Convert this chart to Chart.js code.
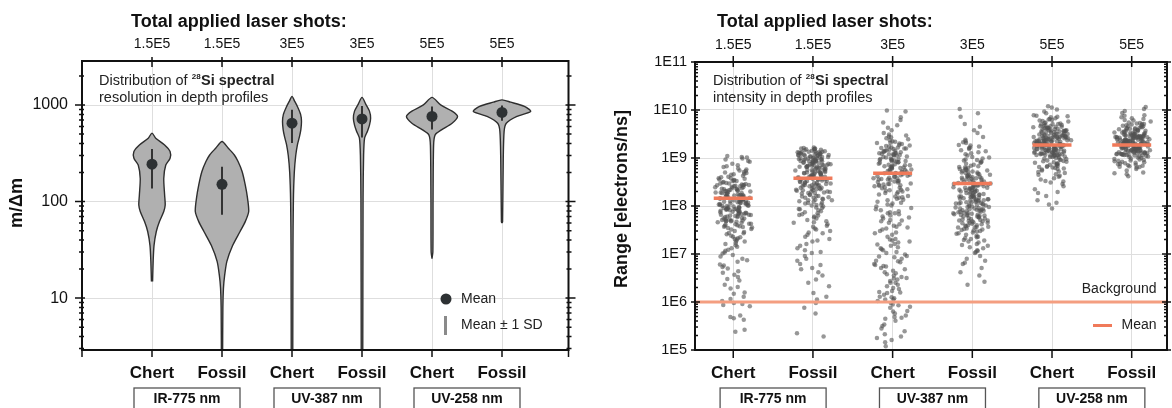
<!DOCTYPE html>
<html><head><meta charset="utf-8">
<script src="https://cdn.jsdelivr.net/npm/chart.js@4.4.0/dist/chart.umd.min.js"></script>
<style>
html,body{margin:0;padding:0;background:#fff;overflow:hidden;width:1172px;height:408px;position:relative;}
canvas{position:absolute;top:0;}
#c1{left:0;} #c2{left:590px;}
</style></head><body>
<canvas id="c1" width="590" height="408"></canvas>
<canvas id="c2" width="600" height="408"></canvas>
<script>
// ---------------- DATA ----------------
const categories = ['Chert','Fossil','Chert','Fossil','Chert','Fossil'];
const laserShots = ['1.5E5','1.5E5','3E5','3E5','5E5','5E5'];
const laserGroups = ['IR-775 nm','UV-387 nm','UV-258 nm'];

const resolutionTicks = [10, 100, 1000];
const resolutionTickLabels = ['10', '100', '1000'];
const intensityTicks = [1e5, 1e6, 1e7, 1e8, 1e9, 1e10, 1e11];
const intensityTickLabels = ['1E5', '1E6', '1E7', '1E8', '1E9', '1E10', '1E11'];

// violin profiles: m/Δm levels (bottom -> top) and relative half-width (density)
const vChertIR_level  = [14.9, 24, 35, 49, 62, 79, 92, 117, 174, 239, 281, 330, 386, 454, 512];
const vChertIR_width  = [0.02, 0.04, 0.07, 0.15, 0.26, 0.41, 0.46, 0.44, 0.41, 0.48, 0.63, 0.63, 0.44, 0.13, 0];
const vFossilIR_level = [2, 8, 12.6, 17, 24, 35, 49, 62, 79, 108, 149, 205, 260, 304, 357, 419];
const vFossilIR_width = [0.02, 0.03, 0.05, 0.09, 0.17, 0.37, 0.63, 0.81, 0.93, 0.89, 0.81, 0.70, 0.56, 0.43, 0.22, 0];
const vChertUV387_level  = [2, 30, 100, 200, 300, 390, 470, 560, 680, 800, 950, 1100, 1230];
const vChertUV387_width  = [0.026, 0.033, 0.048, 0.08, 0.13, 0.19, 0.26, 0.31, 0.33, 0.30, 0.20, 0.09, 0];
const vFossilUV387_level = [2, 108, 302, 454, 536, 619, 731, 865, 1023, 1200];
const vFossilUV387_width = [0.026, 0.037, 0.056, 0.09, 0.19, 0.26, 0.30, 0.26, 0.13, 0];
const vChertUV258_level  = [25.7, 30, 108, 386, 491, 553, 649, 762, 865, 1004, 1200];
const vChertUV258_width  = [0, 0.03, 0.037, 0.056, 0.11, 0.33, 0.70, 0.89, 0.70, 0.30, 0];
const vFossilUV258_level = [60, 62, 281, 536, 649, 762, 859, 968, 1072, 1132];
const vFossilUV258_width = [0, 0.02, 0.044, 0.074, 0.15, 0.52, 1.0, 0.78, 0.30, 0];

const resolutionMean = [244, 151, 649, 719, 762, 839];
const resolutionSD   = [107, 78, 244, 257, 205, 150];

// intensity per depth-profile point, log10(electrons/ns)
const intensityChertIR = [9.02,9.04,9.01,8.97,8.78,8.92,8.85,8.99,8.81,8.88,8.76,8.94,8.83,
8.52,8.71,8.63,8.58,8.74,8.55,8.67,8.61,8.69,8.5,8.73,8.57,8.65,8.54,8.7,8.6,8.66,8.53,
8.27,8.44,8.31,8.49,8.36,8.26,8.41,8.33,8.47,8.29,8.38,8.45,8.3,8.42,8.35,8.48,8.28,8.4,8.34,8.46,8.32,8.43,8.37,8.25,8.39,
8.02,8.19,8.11,8.24,8.06,8.15,8.0,8.22,8.09,8.17,8.04,8.13,8.21,8.07,8.18,8.01,8.14,8.23,8.1,8.05,8.2,8.12,8.03,8.16,8.08,8.19,
7.77,7.96,7.84,7.91,7.79,7.99,7.86,7.93,7.81,7.88,7.75,7.95,7.83,7.9,7.78,7.97,7.85,7.92,7.8,7.87,7.94,7.82,7.89,7.98,
7.52,7.71,7.63,7.57,7.74,7.55,7.67,7.6,7.69,7.51,7.65,7.58,7.72,7.54,7.62,7.68,7.56,7.7,
7.27,7.44,7.33,7.48,7.3,7.41,7.36,7.26,7.46,7.38,7.31,7.43,7.35,
7.03,7.21,7.12,7.07,7.18,7.01,7.15,7.09,7.23,
6.78,6.95,6.84,6.9,6.76,6.98,6.87,
6.52,6.7,6.61,6.57,6.73,6.64,
6.28,6.45,6.36,6.31,6.48,
6.02,6.2,6.11,6.06,6.17,
5.96,5.91,5.98,5.94,
5.72,5.66,5.63,5.69,
5.42,5.38,
8.12,7.95,8.33,7.68,8.05,8.41,7.82,8.22,7.59,8.16,7.91,8.47,8.01,7.74,8.28,8.09,7.87,8.36,7.63,8.19,
7.98,8.44,7.79,8.25,8.03,7.7,8.31,7.93,8.14,8.52,7.85,8.21,7.66,8.07,8.39,7.9,8.17,7.77,8.27,8.0,
8.58,7.84,8.11,8.35,7.72,8.23,7.96,8.43,8.06,7.61];
const intensityFossilIR = [9.16,9.2,9.18,9.21,9.17,9.19,9.22,9.15,9.2,9.18,
9.01,9.12,9.06,9.14,9.03,9.09,9.11,9.0,9.08,9.13,9.04,9.1,9.02,9.07,9.14,9.05,9.12,9.09,9.03,9.11,9.06,9.13,
8.76,8.95,8.83,8.9,8.79,8.98,8.86,8.93,8.77,8.88,8.97,8.81,8.91,8.84,8.99,8.78,8.94,8.87,8.8,8.96,8.85,8.92,8.75,8.89,8.82,8.97,8.86,8.93,
8.52,8.71,8.6,8.67,8.55,8.74,8.63,8.58,8.69,8.51,8.65,8.72,8.56,8.62,8.7,8.54,8.66,8.59,8.73,8.57,8.64,8.5,8.68,8.61,8.53,8.7,
8.27,8.46,8.35,8.41,8.29,8.49,8.32,8.44,8.38,8.26,8.47,8.34,8.42,8.3,8.39,8.45,8.28,8.37,8.48,8.33,8.43,8.36,
8.03,8.21,8.12,8.07,8.18,8.01,8.15,8.24,8.09,8.05,8.2,8.13,8.02,8.17,8.1,8.23,8.06,8.14,
7.78,7.96,7.85,7.91,7.8,7.99,7.87,7.76,7.93,7.83,7.89,7.97,7.81,7.94,
7.53,7.71,7.62,7.57,7.68,7.51,7.65,7.74,7.59,7.66,
7.28,7.45,7.36,7.31,7.48,7.4,7.26,7.43,
7.04,7.21,7.12,7.08,7.17,7.02,
6.79,6.96,6.86,6.9,6.77,
6.55,6.71,6.62,6.68,
6.33,6.47,6.4,
6.05,6.19,6.11,
5.98,5.88,5.76,
5.35,5.28,
8.85,9.05,8.62,8.93,8.41,8.77,9.1,8.55,8.98,8.33,8.7,9.02,8.48,8.88,8.21,8.65,8.95,8.38,8.81,9.08,
8.58,8.91,8.27,8.73,9.0,8.45,8.84,8.12,8.68,8.97,8.52,8.79,9.12,8.35,8.87,8.63,8.99,8.43,8.75,9.06,
8.57,8.9,8.3,8.71,8.94,8.49,8.82,9.03,8.6,8.17];
const intensityChertUV387 = [9.99,9.97,9.85,
9.52,9.74,9.63,9.58,9.79,9.68,
9.27,9.45,9.34,9.49,9.3,9.41,9.37,9.26,9.47,9.32,9.43,9.39,9.29,
9.02,9.21,9.1,9.16,9.05,9.24,9.12,9.08,9.19,9.01,9.14,9.22,9.06,9.17,9.11,9.03,9.2,9.09,9.15,9.07,
8.77,8.96,8.84,8.91,8.79,8.99,8.86,8.93,8.76,8.88,8.97,8.81,8.9,8.83,8.95,8.78,8.87,8.92,8.8,8.98,8.85,
8.52,8.71,8.61,8.66,8.55,8.74,8.63,8.58,8.69,8.51,8.65,8.72,8.56,8.62,8.7,8.54,8.67,8.59,8.73,
8.27,8.46,8.35,8.41,8.29,8.49,8.32,8.44,8.38,8.26,8.47,8.34,8.42,8.3,8.39,8.45,
8.03,8.21,8.12,8.07,8.18,8.01,8.15,8.24,8.09,8.05,8.2,8.13,8.17,
7.78,7.96,7.85,7.91,7.8,7.99,7.87,7.76,7.93,7.83,7.89,
7.53,7.71,7.62,7.57,7.68,7.51,7.65,7.74,7.59,
7.28,7.45,7.36,7.31,7.48,7.4,7.26,7.43,
7.04,7.21,7.12,7.08,7.17,7.02,7.24,7.14,
6.79,6.96,6.86,6.9,6.77,6.99,6.83,6.93,
6.55,6.71,6.62,6.68,6.52,6.74,6.58,6.65,
6.33,6.47,6.4,6.27,6.44,6.36,6.29,6.49,
6.05,6.19,6.11,6.02,6.23,6.08,6.15,6.21,
5.98,5.88,5.76,5.93,5.81,5.95,
5.72,5.61,5.67,5.53,5.69,
5.45,5.33,5.39,5.28,
5.16,5.08,5.21,
9.05,8.72,9.2,8.55,8.91,9.31,8.64,9.12,8.43,8.85,9.25,8.61,8.98,8.37,8.79,9.15,8.5,8.94,9.35,8.68,
9.08,8.46,8.82,9.22,8.58,8.96,8.33,8.75,9.1,8.52,
7.85,7.3,6.95,6.6,6.2,5.9,7.55,7.1,6.75,6.4,6.05,5.65,7.7,7.2,6.85,6.5,6.1,5.8,5.5,5.25];
const intensityFossilUV387 = [10.02,9.86,9.93,
9.44,9.71,9.58,9.52,9.65,
9.27,9.38,9.31,9.35,9.26,9.33,
9.02,9.21,9.1,9.16,9.05,9.24,9.12,9.08,9.19,9.01,9.14,9.22,
8.77,8.96,8.84,8.91,8.79,8.99,8.86,8.93,8.76,8.88,8.97,8.81,8.9,8.83,8.95,8.78,
8.52,8.71,8.61,8.66,8.55,8.74,8.63,8.58,8.69,8.51,8.65,8.72,8.56,8.62,8.7,8.54,8.67,8.59,8.73,8.6,
8.27,8.46,8.35,8.41,8.29,8.49,8.32,8.44,8.38,8.26,8.47,8.34,8.42,8.3,8.39,8.45,8.28,8.37,8.48,8.33,8.43,8.36,
8.03,8.21,8.12,8.07,8.18,8.01,8.15,8.24,8.09,8.05,8.2,8.13,8.02,8.17,8.1,8.23,8.06,8.14,8.19,8.04,8.11,8.22,8.08,8.16,
7.78,7.96,7.85,7.91,7.8,7.99,7.87,7.76,7.93,7.83,7.89,7.97,7.81,7.94,7.86,7.77,7.92,7.84,7.98,7.79,7.9,7.82,7.95,7.88,
7.53,7.71,7.62,7.57,7.68,7.51,7.65,7.74,7.59,7.66,7.55,7.7,7.6,7.73,7.52,7.64,7.58,7.69,7.56,7.63,
7.28,7.45,7.36,7.31,7.48,7.4,7.26,7.43,7.33,7.47,7.38,7.29,7.42,7.35,7.49,
7.04,7.21,7.12,7.08,7.17,7.02,7.24,7.14,7.06,7.19,
6.79,6.96,6.86,6.9,6.82,
6.55,6.71,6.62,
6.42,6.36,
8.05,8.3,7.85,8.55,7.7,8.2,8.45,7.95,8.65,7.6,8.12,8.38,7.8,8.5,8.02,8.27,7.9,8.7,7.65,8.15,
8.42,7.75,8.58,8.08,8.33,7.88,8.8,7.55,8.22,8.48,7.98,8.62,7.72,8.18,8.4,7.82,8.52,8.1,8.35,7.92,
8.75,7.68,8.25,8.46,8.0,8.6,7.78,8.14,8.37,7.5];
const intensityChertUV258 = [10.05,9.93,10.01,9.97,10.08,
9.76,9.88,9.81,9.85,9.78,9.89,9.83,9.77,9.86,9.8,9.87,9.79,
9.52,9.71,9.61,9.66,9.55,9.74,9.63,9.58,9.69,9.51,9.65,9.72,9.56,9.62,9.7,9.54,9.67,9.59,9.73,9.6,9.53,9.68,9.57,9.64,9.5,9.71,9.61,9.66,9.55,9.63,
9.27,9.46,9.35,9.41,9.29,9.49,9.32,9.44,9.38,9.26,9.47,9.34,9.42,9.3,9.39,9.45,9.28,9.37,9.48,9.33,9.43,9.36,9.25,9.4,9.31,9.46,9.35,9.41,9.29,9.44,9.38,9.27,9.47,9.34,9.42,9.3,9.39,9.36,
9.02,9.21,9.1,9.16,9.05,9.24,9.12,9.08,9.19,9.01,9.14,9.22,9.06,9.17,9.11,9.03,9.2,9.09,9.15,9.07,9.23,9.13,9.04,9.18,9.0,9.21,9.1,9.16,9.05,9.12,9.08,9.19,9.14,9.22,9.06,9.17,
8.77,8.96,8.84,8.91,8.79,8.99,8.86,8.93,8.76,8.88,8.97,8.81,8.9,8.83,8.95,8.78,8.87,8.92,8.8,8.98,8.85,8.94,8.82,8.89,
8.52,8.71,8.61,8.66,8.55,8.74,8.63,8.58,8.69,8.51,8.65,8.72,
8.27,8.46,8.35,8.41,8.29,8.49,
8.03,8.21,8.12,8.07,
7.95,
9.35,9.12,9.52,9.28,9.45,9.05,9.38,9.6,9.2,9.42,9.15,9.55,9.3,9.48,9.08,9.33,9.62,9.25,9.4,9.1,
9.5,9.22,9.44,9.02,9.36,9.58,9.18,9.46,9.26,9.65,9.14,9.39,9.32,9.53,9.06,9.43,9.24,9.57,9.16,9.37,
9.49,9.21,9.34,9.11,9.47,9.29,9.56,9.19,9.41,9.27];
const intensityFossilUV258 = [10.06,9.94,10.02,9.98,
9.76,9.88,9.81,9.85,9.78,9.89,9.83,9.79,
9.52,9.71,9.61,9.66,9.55,9.74,9.63,9.58,9.69,9.51,9.65,9.72,9.56,9.62,9.7,9.54,9.67,9.59,9.73,9.6,9.53,9.68,9.57,9.64,9.5,9.71,9.61,9.66,
9.27,9.46,9.35,9.41,9.29,9.49,9.32,9.44,9.38,9.26,9.47,9.34,9.42,9.3,9.39,9.45,9.28,9.37,9.48,9.33,9.43,9.36,9.25,9.4,9.31,9.46,9.35,9.41,9.29,9.44,9.38,9.27,9.47,9.34,9.42,9.3,9.39,9.36,9.45,9.28,9.37,9.48,9.33,9.43,9.32,
9.02,9.21,9.1,9.16,9.05,9.24,9.12,9.08,9.19,9.01,9.14,9.22,9.06,9.17,9.11,9.03,9.2,9.09,9.15,9.07,9.23,9.13,9.04,9.18,9.0,9.21,9.1,9.16,9.05,9.12,9.08,9.19,9.14,9.22,9.06,9.17,9.11,9.03,9.2,9.09,9.15,9.07,
8.81,8.96,8.86,8.91,8.83,8.99,8.88,8.93,8.8,8.9,8.97,8.84,8.92,8.87,8.95,8.82,8.89,8.94,8.85,8.98,
8.62,8.77,8.7,8.66,8.74,8.68,
9.33,9.15,9.48,9.26,9.4,9.1,9.36,9.55,9.22,9.44,9.18,9.5,9.3,9.45,9.12,9.35,9.6,9.25,9.42,9.08,
9.52,9.2,9.38,9.14,9.46,9.28,9.57,9.17,9.41,9.32,9.49,9.23,9.37,9.11,9.43,9.29,9.53,9.19,9.39,9.34,
9.47,9.24,9.62,9.16,9.31,9.44,9.27,9.51,9.21,9.36];

const intensityMean = [1.45e8, 3.8e8, 4.8e8, 2.95e8, 1.86e9, 1.86e9];
const backgroundLevel = 1e6;

// ---------------- STYLE / HELPERS ----------------
const FAM = '"Liberation Sans", Arial, Helvetica, sans-serif';
const INK = '#111';
const CORAL = '#f07a5a';
const CORAL_LIGHT = '#f49e80';
const violinScale = 0.41;
const jitterHalf = 0.25;
function frac(v) { return v - Math.floor(v); }
// deterministic quadratic Weyl sequence for horizontal jitter (no repeating streaks)
function jitterOffset(i) {
  const a = frac(i * 0.7548776662 + i * i * 0.2357022604);
  const b = frac(i * 0.5698402910 + i * i * 0.1309016994);
  return ((0.72 * a + 0.28 * b) - 0.5) * 2 * jitterHalf;
}

function txt(ctx, s, x, y, font, color, align, base) {
  ctx.font = font; ctx.fillStyle = color || INK;
  ctx.textAlign = align || 'left'; ctx.textBaseline = base || 'alphabetic';
  ctx.fillText(s, x, y);
}

function drawFrame(chart, c) {
  const {ctx, chartArea: a, scales} = chart;
  const xs = scales.x, ys = scales.y;
  ctx.save();
  ctx.strokeStyle = INK; ctx.lineWidth = 2;
  ctx.strokeRect(a.left, a.top, a.right - a.left, a.bottom - a.top);
  ctx.lineWidth = 1.5;
  ctx.beginPath();
  for (let i = 1; i <= categories.length; i++) {
    const px = xs.getPixelForValue(i);
    ctx.moveTo(px, a.top - c.topOut); ctx.lineTo(px, a.top + c.topIn);
    ctx.moveTo(px, a.bottom); ctx.lineTo(px, a.bottom + c.botOut);
  }
  if (c.edgeTicks) {
    ctx.moveTo(a.left, a.bottom); ctx.lineTo(a.left, a.bottom + c.botOut);
    ctx.moveTo(a.right, a.bottom); ctx.lineTo(a.right, a.bottom + c.botOut);
  }
  const lo = Math.floor(Math.log10(ys.min)), hi = Math.ceil(Math.log10(ys.max));
  for (let e = lo; e <= hi; e++) {
    for (let m = 1; m <= 9; m++) {
      const v = m * Math.pow(10, e);
      if (v < ys.min * 0.999 || v > ys.max * 1.001) continue;
      const py = ys.getPixelForValue(v);
      const major = m === 1;
      const o = major ? c.majOut : c.minOut, n = major ? c.majIn : c.minIn;
      ctx.moveTo(a.left - o, py); ctx.lineTo(a.left + n, py);
      ctx.moveTo(a.right + o, py); ctx.lineTo(a.right - n, py);
    }
  }
  ctx.stroke();
  ctx.restore();
}

function drawCommonText(chart, c) {
  const {ctx, scales} = chart;
  const xs = scales.x;
  ctx.save();
  txt(ctx, 'Total applied laser shots:', c.titleX, 27, 'bold 18px ' + FAM, INK);
  let x = c.noteX;
  ctx.font = '14.5px ' + FAM;
  txt(ctx, 'Distribution of ', x, 85, '14.5px ' + FAM, '#222');
  x += ctx.measureText('Distribution of ').width;
  txt(ctx, '28', x, 79, 'bold 8px ' + FAM, '#222');
  ctx.font = 'bold 8px ' + FAM;
  x += ctx.measureText('28').width + 0.5;
  txt(ctx, 'Si spectral', x, 85, 'bold 14.5px ' + FAM, '#222');
  txt(ctx, c.note2, c.noteX, 102, '14.5px ' + FAM, '#222');
  ctx.strokeStyle = '#555'; ctx.lineWidth = 1.3;
  laserGroups.forEach((g, k) => {
    const cx = (xs.getPixelForValue(2 * k + 1) + xs.getPixelForValue(2 * k + 2)) / 2;
    ctx.strokeRect(cx - 53, 388, 106, 40);
    txt(ctx, g, cx, 399.5, 'bold 14px ' + FAM, INK, 'center', 'middle');
  });
  ctx.translate(c.yTitleX, c.yTitleY);
  ctx.rotate(-Math.PI / 2);
  txt(ctx, c.yTitle, 0, 0, 'bold 18px ' + FAM, INK, 'center', 'middle');
  ctx.restore();
}

function xAxis(pos, h, labels, font, pad, min, max, grid) {
  return {
    type: 'linear', position: pos, min: min, max: max,
    afterBuildTicks: s => { s.ticks = categories.map((_, i) => ({ value: i + 1 })); },
    afterFit: s => { s.height = h; },
    ticks: { callback: (v, i) => labels[i], font: font, color: INK, padding: pad, maxRotation: 0, autoSkip: false },
    grid: { display: grid, color: '#dedede', lineWidth: 1, drawTicks: false },
    border: { display: false }
  };
}

// ---------------- LEFT CHART: violins ----------------
const violinSets = [
  [vChertIR_level, vChertIR_width], [vFossilIR_level, vFossilIR_width],
  [vChertUV387_level, vChertUV387_width], [vFossilUV387_level, vFossilUV387_width],
  [vChertUV258_level, vChertUV258_width], [vFossilUV258_level, vFossilUV258_width]
];
const leftSets = [];
violinSets.forEach(([lv, wd], i) => {
  const cat = i + 1;
  const right = lv.map((v, k) => ({ x: cat + wd[k] * violinScale, y: v }));
  const left = lv.map((v, k) => ({ x: cat - wd[k] * violinScale, y: v })).reverse();
  if (wd[wd.length - 1] === 0) left.shift();
  leftSets.push({ data: right.concat(left), showLine: true, fill: 'shape',
    backgroundColor: '#b0b0b0', borderColor: '#2e2e2e', borderWidth: 1.4,
    pointRadius: 0, tension: 0.25, order: 3 });
});
resolutionMean.forEach((m, i) => {
  leftSets.push({ data: [{ x: i + 1, y: m - resolutionSD[i] }, { x: i + 1, y: m + resolutionSD[i] }],
    showLine: true, borderColor: '#333', borderWidth: 2, pointRadius: 0, order: 2 });
});
leftSets.push({ data: resolutionMean.map((m, i) => ({ x: i + 1, y: m })),
  pointRadius: 5.5, backgroundColor: '#2d3133', borderWidth: 0, order: 1 });

const leftPlugin = {
  id: 'leftDeco',
  afterDraw(chart) {
    drawFrame(chart, { topOut: 4, topIn: 6, botOut: 7, edgeTicks: true, majOut: 7, majIn: 3, minOut: 3, minIn: 2 });
    drawCommonText(chart, { titleX: 131, noteX: 99, note2: 'resolution in depth profiles',
      yTitle: 'm/Δm', yTitleX: 17, yTitleY: 203 });
    const ctx = chart.ctx;
    ctx.save();
    ctx.fillStyle = '#2d3133';
    ctx.beginPath(); ctx.arc(446, 299, 5.5, 0, Math.PI * 2); ctx.fill();
    txt(ctx, 'Mean', 461, 299.5, '14px ' + FAM, '#222', 'left', 'middle');
    ctx.fillStyle = '#8a8a8a';
    ctx.fillRect(444, 316, 3, 19);
    txt(ctx, 'Mean ± 1 SD', 461, 325.5, '14px ' + FAM, '#222', 'left', 'middle');
    ctx.restore();
  }
};

new Chart(document.getElementById('c1'), {
  type: 'scatter',
  data: { datasets: leftSets },
  options: {
    responsive: false, animation: false, devicePixelRatio: 1, events: [],
    layout: { padding: { left: 0, right: 21.5, top: 0, bottom: 0 } },
    plugins: { legend: { display: false }, tooltip: { enabled: false } },
    scales: {
      x: xAxis('bottom', 58, categories, { family: FAM, size: 17, weight: 'bold' }, 13, 0, 6.95, true),
      x2: xAxis('top', 61, laserShots, { family: FAM, size: 14 }, 8, 0, 6.95, false),
      y: {
        type: 'logarithmic', min: 2.9, max: 2860,
        afterBuildTicks: s => { s.ticks = resolutionTicks.map(v => ({ value: v })); },
        afterFit: s => { s.width = 82; },
        ticks: { callback: (v, i) => resolutionTickLabels[i], font: { family: FAM, size: 16 }, color: INK, padding: 14 },
        grid: { color: '#dedede', drawTicks: false }, border: { display: false }
      }
    }
  },
  plugins: [leftPlugin]
});

// ---------------- RIGHT CHART: intensity strip plot ----------------
const intensityGroups = [intensityChertIR, intensityFossilIR, intensityChertUV387,
  intensityFossilUV387, intensityChertUV258, intensityFossilUV258];
const stripPts = [];
intensityGroups.forEach((arr, g) => arr.forEach((e, i) => {
  stripPts.push({ x: g + 1 + jitterOffset(i + 7 + g * 311), y: Math.pow(10, e) });
}));

const rightPlugin = {
  id: 'rightDeco',
  afterDatasetsDraw(chart) {
    const {ctx, chartArea: a, scales} = chart;
    const py = scales.y.getPixelForValue(backgroundLevel);
    ctx.save();
    ctx.strokeStyle = CORAL_LIGHT; ctx.lineWidth = 3;
    ctx.beginPath(); ctx.moveTo(a.left, py); ctx.lineTo(a.right, py); ctx.stroke();
    ctx.restore();
  },
  afterDraw(chart) {
    drawFrame(chart, { topOut: 6, topIn: 5, botOut: 8, edgeTicks: false, majOut: 4, majIn: 5, minOut: 0, minIn: 3 });
    drawCommonText(chart, { titleX: 127, noteX: 123, note2: 'intensity in depth profiles',
      yTitle: 'Range [electrons/ns]', yTitleX: 32, yTitleY: 199 });
    const ctx = chart.ctx;
    ctx.save();
    txt(ctx, 'Background', 566.5, 289.5, '14px ' + FAM, '#222', 'right', 'middle');
    ctx.strokeStyle = CORAL; ctx.lineWidth = 3;
    ctx.beginPath(); ctx.moveTo(503, 325.5); ctx.lineTo(522, 325.5); ctx.stroke();
    txt(ctx, 'Mean', 566.5, 325.5, '14px ' + FAM, '#222', 'right', 'middle');
    ctx.restore();
  }
};

new Chart(document.getElementById('c2'), {
  type: 'scatter',
  data: { datasets: [
    { data: intensityMean.map((m, i) => ({ x: i + 1, y: m })), pointStyle: 'line',
      pointRadius: 19.5, pointBorderWidth: 3.5, pointBorderColor: CORAL, borderColor: CORAL, order: 0 },
    { data: stripPts, pointRadius: 2.25, backgroundColor: 'rgba(82,82,82,0.6)', borderWidth: 0, order: 1 }
  ] },
  options: {
    responsive: false, animation: false, devicePixelRatio: 1, events: [],
    layout: { padding: { left: 0, right: 14, top: 0, bottom: 0 } },
    plugins: { legend: { display: false }, tooltip: { enabled: false } },
    scales: {
      x: xAxis('bottom', 58, categories, { family: FAM, size: 17, weight: 'bold' }, 13, 0.52, 6.443, true),
      x2: xAxis('top', 62, laserShots, { family: FAM, size: 14 }, 8, 0.52, 6.443, false),
      y: {
        type: 'logarithmic', min: 1e5, max: 1e11,
        afterBuildTicks: s => { s.ticks = intensityTicks.map(v => ({ value: v })); },
        afterFit: s => { s.width = 105; },
        ticks: { callback: (v, i) => intensityTickLabels[i], font: { family: FAM, size: 14.5 }, color: INK, padding: 8 },
        grid: { color: '#dedede', drawTicks: false }, border: { display: false }
      }
    }
  },
  plugins: [rightPlugin]
});
</script>
</body></html>
